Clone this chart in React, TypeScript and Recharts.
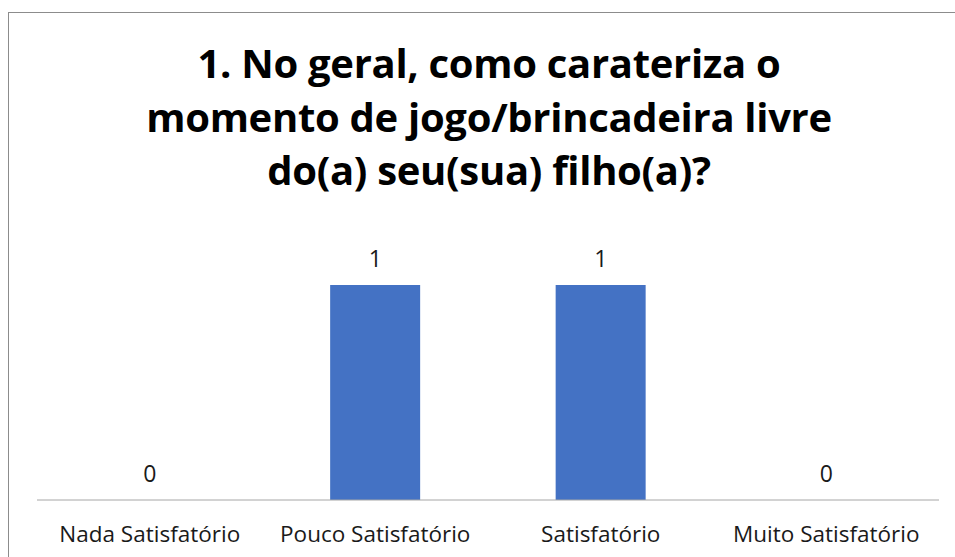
import { Bar, ComposedChart, LabelList, Line, XAxis, YAxis } from "recharts";

const categories = [
  "Nada Satisfatório",
  "Pouco Satisfatório",
  "Satisfatório",
  "Muito Satisfatório",
];
const responses = [0, 1, 1, 0];
const titleLines = [
  "1. No geral, como carateriza o",
  "momento de jogo/brincadeira livre",
  "do(a) seu(sua) filho(a)?",
];

const data = categories.map((name, i) => ({ name, value: responses[i] }));

const FONT = "'Open Sans', sans-serif";

export default function App() {
  return (
    <div
      style={{
        position: "fixed",
        left: 0,
        top: 0,
        width: 955,
        height: 557,
        overflow: "hidden",
        background: "#fff",
      }}
    >
      {/* chart frame, cropped at right and bottom like the screenshot */}
      <div
        style={{
          position: "absolute",
          left: 8,
          top: 12,
          width: 1000,
          height: 600,
          border: "1px solid #8c8c8c",
        }}
      />

      <svg
        width={955}
        height={220}
        style={{ position: "absolute", left: 0, top: 0 }}
      >
        {titleLines.map((line, i) => (
          <text
            key={i}
            x={489}
            y={78 + i * 53.5}
            textAnchor="middle"
            fontFamily={FONT}
            fontWeight={700}
            fontSize={40}
            letterSpacing={-0.3}
            fill="#000"
          >
            {line}
          </text>
        ))}
      </svg>

      <div style={{ position: "absolute", left: 0, top: 0 }}>
        <ComposedChart
          width={955}
          height={557}
          data={data}
          margin={{ top: 242, right: 16, bottom: 0, left: 37 }}
          barCategoryGap="30%"
        >
          <XAxis
            dataKey="name"
            height={57}
            tickLine={false}
            axisLine={{ stroke: "#a6a6a6" }}
            tickMargin={20}
            interval={0}
            tick={{ fill: "#1a1a1a", fontSize: 22.5, fontFamily: FONT }}
          />
          <YAxis hide domain={[0, 1.2]} />
          <Bar dataKey="value" fill="#4472C4" isAnimationActive={false} />
          {/* data labels (also shows the zeros, which have no bar) */}
          <Line
            dataKey="value"
            stroke="none"
            dot={false}
            activeDot={false}
            isAnimationActive={false}
          >
            <LabelList
              dataKey="value"
              position="top"
              offset={18}
              fill="#1a1a1a"
              fontSize={23}
              fontFamily={FONT}
            />
          </Line>
        </ComposedChart>
      </div>
    </div>
  );
}
